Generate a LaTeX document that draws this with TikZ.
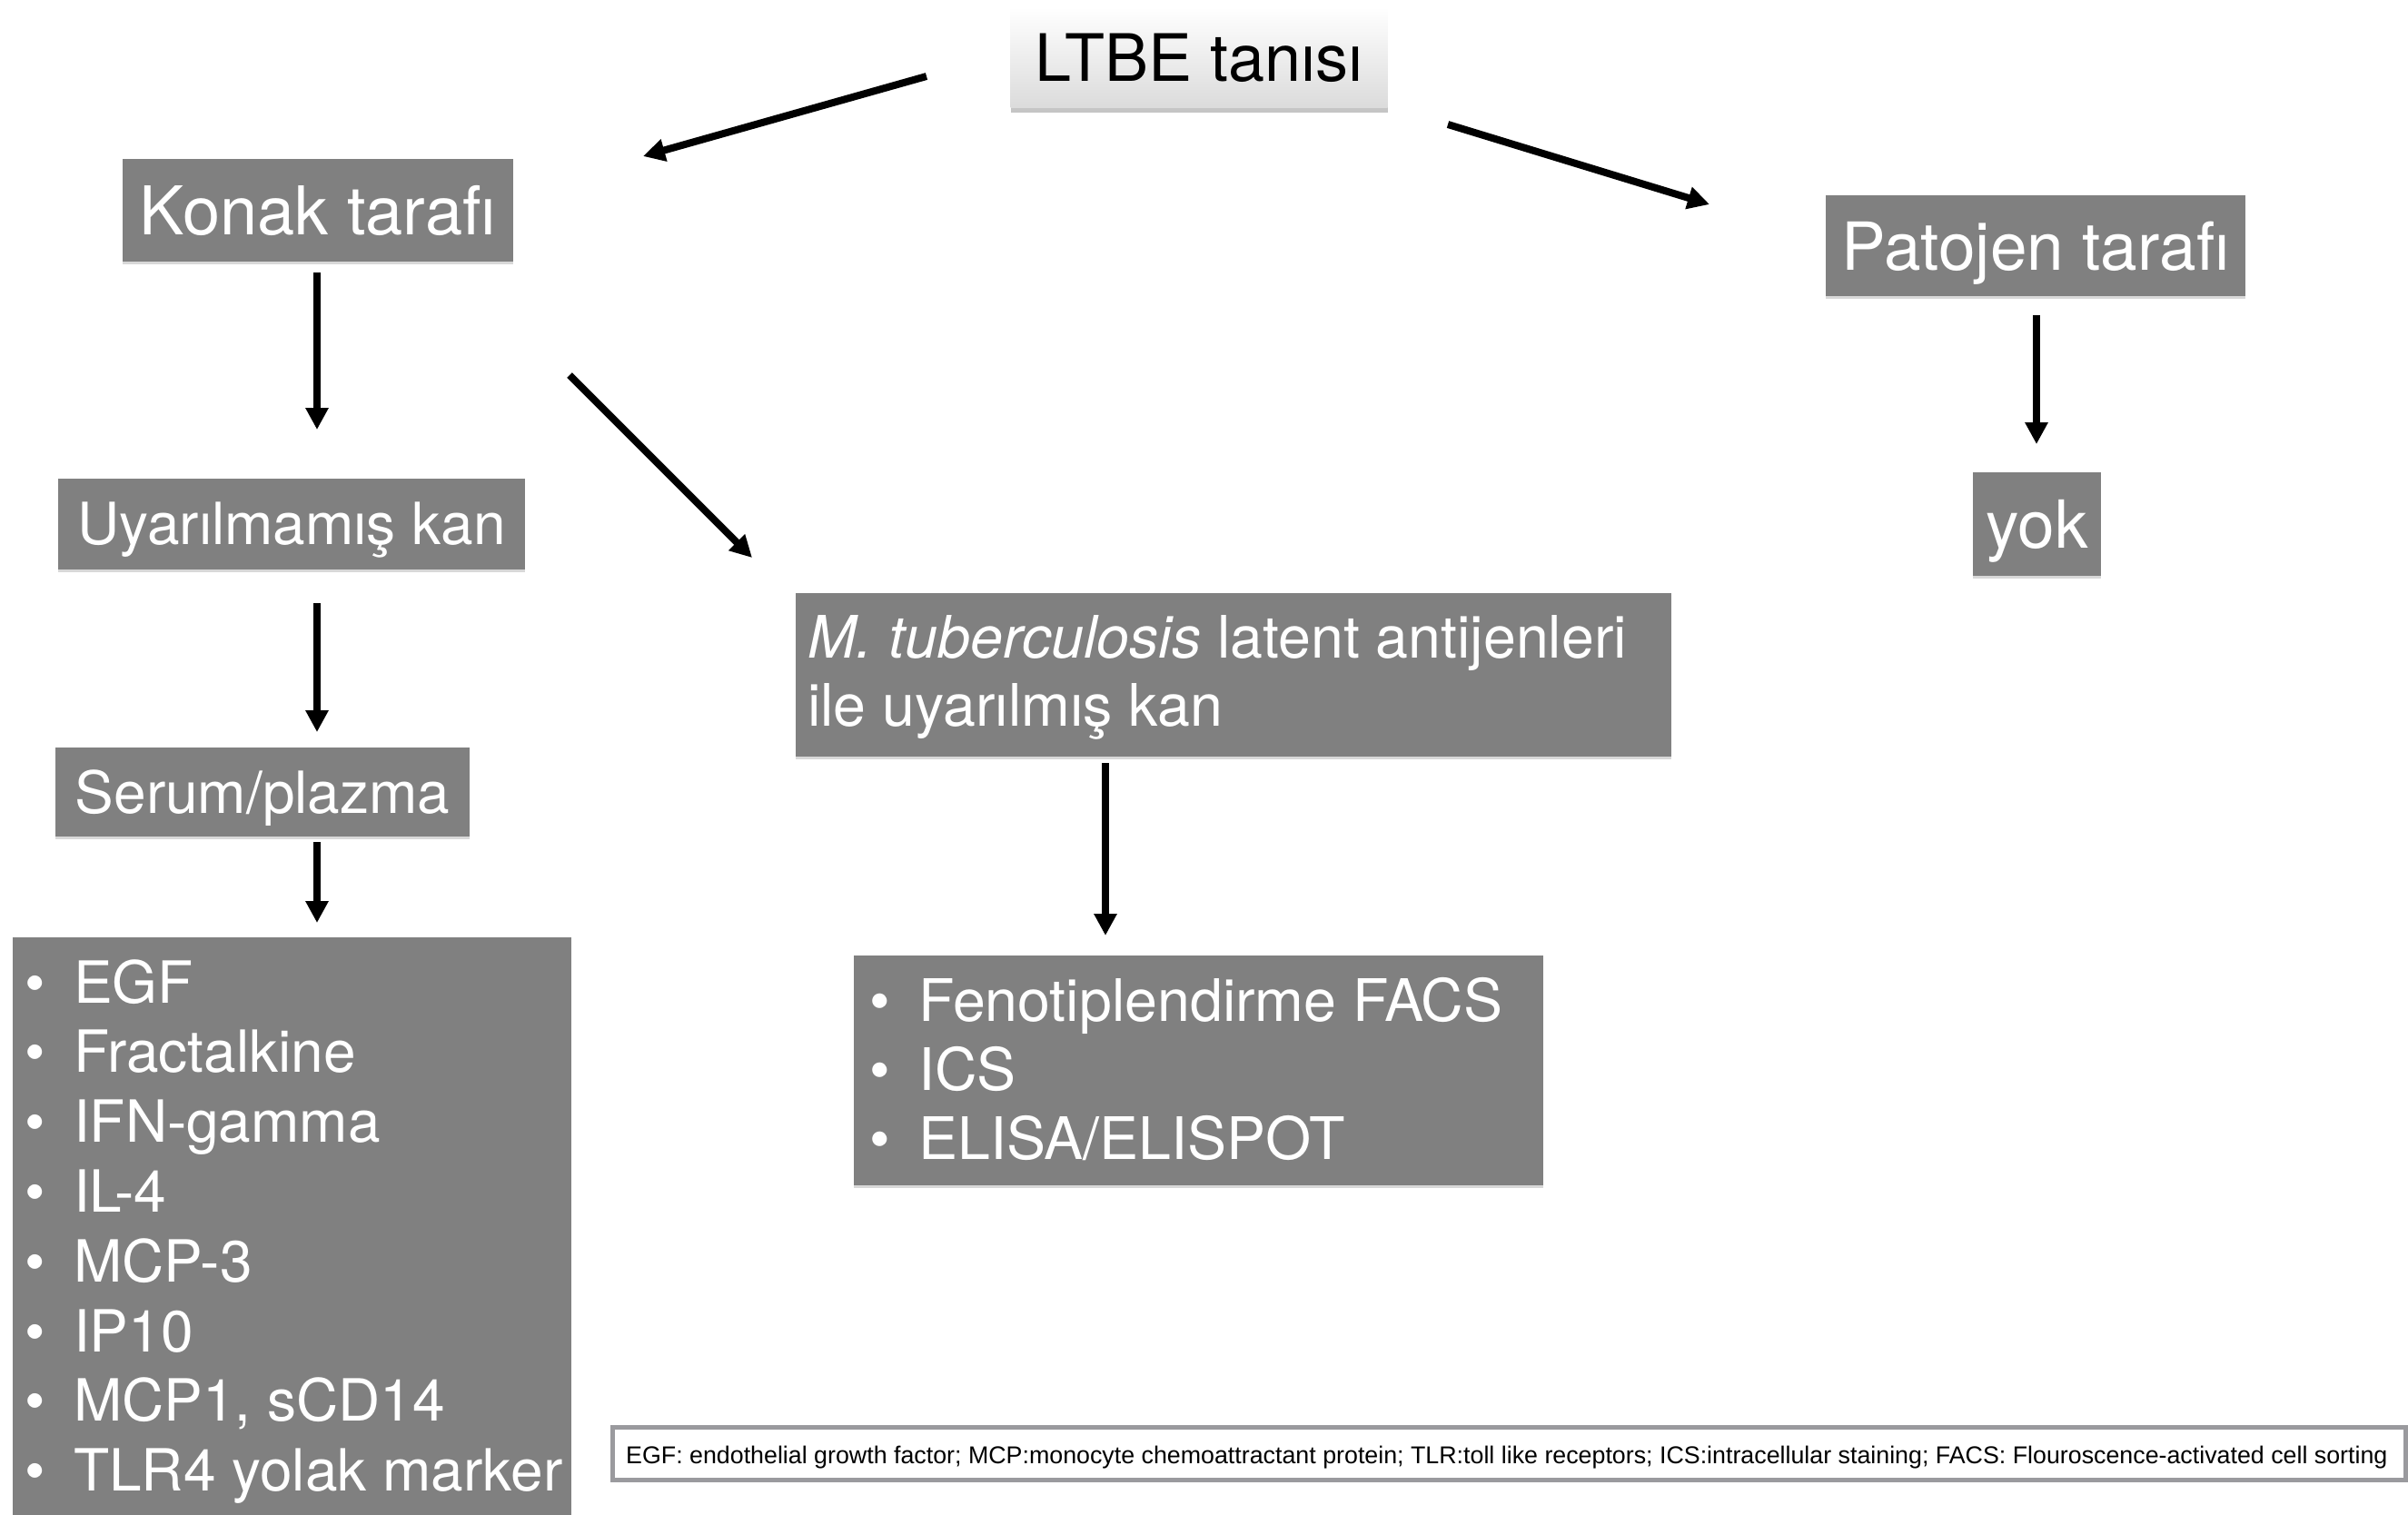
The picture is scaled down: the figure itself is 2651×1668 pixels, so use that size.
\documentclass[tikz,border=0pt]{standalone}
\usepackage{fontspec}
\setmainfont{TeX Gyre Heros}
\newfontfamily\notefont{Liberation Sans}
\usetikzlibrary{arrows.meta,shadows}
\definecolor{boxgray}{RGB}{128,128,128}
\definecolor{notegray}{RGB}{154,154,158}
\tikzset{
  graybox/.style={fill=boxgray, text=white, inner sep=0pt, draw=none,
    drop shadow={shadow xshift=0pt, shadow yshift=-3pt, opacity=0.3}},
  topbox/.style={top color=white, bottom color=black!14, text=black, inner sep=0pt,
    drop shadow={shadow xshift=0pt, shadow yshift=-6pt, opacity=0.45}},
  conn/.style={line width=8pt, draw=black, -{Triangle[length=24pt,width=24pt]}},
  itemtxt/.style={text=white, inner sep=0pt, anchor=base west},
}
\begin{document}
\begin{tikzpicture}[x=1pt,y=-1pt]
\useasboundingbox (0,0) rectangle (2651,1668);
\fill[white] (0,0) rectangle (2651,1668);

% boxes with single-line text
\node[topbox, minimum width=415pt, minimum height=110pt, text height=52pt, text depth=0pt,
  font=\fontsize{72}{80}\selectfont] (ltbe) at (1320,63) {LTBE tanısı};
\node[graybox, minimum width=430pt, minimum height=113pt, text height=53pt, text depth=0pt,
  font=\fontsize{74}{80}\selectfont] (konak) at (350,231.5) {Konak tarafı};
\node[graybox, minimum width=462pt, minimum height=111pt, text height=53pt, text depth=0pt,
  font=\fontsize{73}{80}\selectfont] (patojen) at (2241,270.5) {Patojen tarafı};
\node[graybox, minimum width=514pt, minimum height=100pt, text height=45pt, text depth=0pt,
  font=\fontsize{64}{70}\selectfont] (uyar) at (321,577) {Uyarılmamış kan};
\node[graybox, minimum width=141pt, minimum height=114pt, text height=53pt, text depth=0pt,
  font=\fontsize{73}{80}\selectfont] (yok) at (2242.5,577) {yok};
\node[graybox, minimum width=456pt, minimum height=98pt, text height=46pt, text depth=0pt,
  font=\fontsize{64}{70}\selectfont] (serum) at (289,872) {Serum/plazma};

% M. tuberculosis box
\node[graybox, minimum width=964pt, minimum height=180pt] (mtb) at (1358,743) {};
\node[itemtxt, font=\fontsize{64.5}{70}\selectfont] (mtbA) at (889,724) {\textit{M. tuberculosis} latent antijenleri};
\node[itemtxt, font=\fontsize{64.5}{70}\selectfont] (mtbB) at (889,799) {ile uyarılmış kan};

% left list box
\node[graybox, minimum width=615pt, minimum height=648pt] (egfbox) at (321.5,1356) {};
\begin{scope}[every node/.style={itemtxt, font=\fontsize{64}{70}\selectfont}]
\node (i1) at (27,1104.0) {\makebox[54pt][l]{\textbullet}EGF};
\node (i2) at (27,1180.8) {\makebox[54pt][l]{\textbullet}Fractalkine};
\node (i3) at (27,1257.6) {\makebox[54pt][l]{\textbullet}IFN-gamma};
\node (i4) at (27,1334.4) {\makebox[54pt][l]{\textbullet}IL-4};
\node (i5) at (27,1411.2) {\makebox[54pt][l]{\textbullet}MCP-3};
\node (i6) at (27,1488.0) {\makebox[54pt][l]{\textbullet}IP10};
\node (i7) at (27,1564.8) {\makebox[54pt][l]{\textbullet}MCP1, sCD14};
\node (i8) at (27,1641.6) {\makebox[54pt][l]{\textbullet}TLR4 yolak marker};
\end{scope}

% FACS list box
\node[graybox, minimum width=759pt, minimum height=253pt] (facsbox) at (1319.5,1178.5) {};
\begin{scope}[every node/.style={itemtxt, font=\fontsize{64.5}{70}\selectfont}]
\node (f1) at (957,1124) {\makebox[54pt][l]{\textbullet}Fenotiplendirme FACS};
\node (f2) at (957,1200) {\makebox[54pt][l]{\textbullet}ICS};
\node (f3) at (957,1276) {\makebox[54pt][l]{\textbullet}ELISA/ELISPOT};
\end{scope}

% footnote
\node[draw=notegray, line width=5pt, fill=white, inner sep=0pt,
  minimum width=1974pt, minimum height=58pt] (note) at (1661.5,1600.5) {};
\node[anchor=base west, inner sep=0pt, font=\notefont\fontsize{26.8}{30}\selectfont] (notetext) at (689,1611)
  {EGF: endothelial growth factor; MCP:monocyte chemoattractant protein; TLR:toll like receptors; ICS:intracellular staining; FACS: Flouroscence-activated cell sorting};

% arrow end points
\coordinate (a1s) at (1020,84);   \coordinate (a1e) at (708,172);
\coordinate (a2s) at (1594,137);  \coordinate (a2e) at (1882,225);
\coordinate (a3s) at (349,300);   \coordinate (a3e) at (349,473);
\coordinate (a4s) at (627,413);   \coordinate (a4e) at (828,614);
\coordinate (a5s) at (2242,347);  \coordinate (a5e) at (2242,489);
\coordinate (a6s) at (349,664);   \coordinate (a6e) at (349,806);
\coordinate (a7s) at (349,927);   \coordinate (a7e) at (349,1016);
\coordinate (a8s) at (1217,840);  \coordinate (a8e) at (1217,1030);

\draw[conn] (a1s) -- (a1e);
\draw[conn] (a2s) -- (a2e);
\draw[conn] (a3s) -- (a3e);
\draw[conn] (a4s) -- (a4e);
\draw[conn] (a5s) -- (a5e);
\draw[conn] (a6s) -- (a6e);
\draw[conn] (a7s) -- (a7e);
\draw[conn] (a8s) -- (a8e);
\end{tikzpicture}
\end{document}
